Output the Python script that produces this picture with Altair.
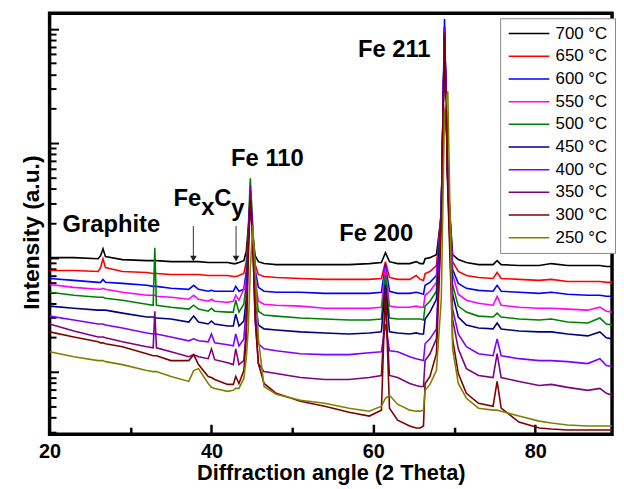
import altair as alt
import pandas as pd

# 2-theta grid (degrees)
two_theta = [20, 23, 26, 26.3, 26.6, 26.9, 29, 32, 32.8, 33.0, 33.2, 35, 37.2, 37.8, 38.4,
             39.6, 40.0, 40.4, 42.0, 42.7, 43.0, 43.4, 44.0, 44.3, 44.55, 44.8, 45.1, 45.4,
             45.8, 46.5, 48, 51, 54, 57, 59.5, 61.0, 61.5, 62.0, 63, 64.5, 65.3, 65.8, 66.2,
             66.4, 67.0, 67.8, 68.4, 68.8, 69.2, 69.8, 70.5, 71.5, 73, 74.8, 75.3, 75.8, 78,
             80.5, 82, 84, 86.5, 88, 88.8, 89.5]

series_labels = ["700 °C", "650 °C", "600 °C", "550 °C", "500 °C",
                 "450 °C", "400 °C", "350 °C", "300 °C", "250 °C"]
series_colors = ["#000000", "#ff0000", "#0000ff", "#ff00ff", "#008000",
                 "#000080", "#8000ff", "#800080", "#800000", "#808000"]

# log10 of intensity (a.u.)
log_i_700 = [2.000, 2.000, 1.991, 2.017, 2.078, 2.009, 1.983, 1.974, 1.974, 1.974, 1.974, 1.965, 1.965, 1.965, 1.965,
             1.957, 1.957, 1.957, 1.957, 1.948, 1.948, 1.957, 1.974, 2.052, 2.260, 2.459, 2.199, 2.017,
             1.965, 1.948, 1.939, 1.939, 1.939, 1.939, 1.948, 1.957, 2.043, 1.965, 1.948, 1.948, 1.965, 1.948, 1.948,
             1.991, 2.000, 2.026, 2.372, 4.017, 2.675, 2.026, 1.983, 1.957, 1.939, 1.939, 1.974, 1.939, 1.931,
             1.931, 1.948, 1.931, 1.931, 1.931, 1.922, 1.922]
log_i_650 = [1.887, 1.887, 1.879, 1.913, 1.991, 1.913, 1.879, 1.870, 1.861, 1.861, 1.861, 1.853, 1.853, 1.853, 1.853,
             1.844, 1.844, 1.844, 1.844, 1.835, 1.835, 1.844, 1.861, 1.965, 2.199, 2.502, 2.225, 1.939,
             1.853, 1.835, 1.827, 1.818, 1.810, 1.810, 1.810, 1.818, 1.965, 1.827, 1.810, 1.810, 1.844, 1.810, 1.801,
             1.861, 1.879, 1.931, 2.372, 3.974, 2.675, 1.965, 1.879, 1.844, 1.827, 1.818, 1.870, 1.818, 1.810,
             1.801, 1.810, 1.792, 1.792, 1.792, 1.784, 1.784]
log_i_600 = [1.818, 1.801, 1.784, 1.784, 1.810, 1.784, 1.775, 1.758, 1.749, 1.749, 1.749, 1.732, 1.723, 1.758, 1.723,
             1.706, 1.714, 1.706, 1.706, 1.706, 1.749, 1.706, 1.723, 1.879, 2.173, 2.545, 2.225, 1.896,
             1.740, 1.706, 1.697, 1.697, 1.688, 1.688, 1.688, 1.697, 1.939, 1.706, 1.688, 1.688, 1.697, 1.688, 1.680,
             1.758, 1.784, 1.844, 2.416, 4.087, 2.719, 1.896, 1.775, 1.732, 1.714, 1.706, 1.758, 1.706, 1.697,
             1.688, 1.697, 1.680, 1.671, 1.671, 1.662, 1.662]
log_i_550 = [1.766, 1.740, 1.723, 1.723, 1.732, 1.723, 1.697, 1.671, 1.671, 1.671, 1.662, 1.654, 1.636, 1.671, 1.636,
             1.619, 1.636, 1.619, 1.610, 1.619, 1.671, 1.628, 1.723, 1.810, 2.156, 2.589, 2.199, 1.810,
             1.619, 1.593, 1.584, 1.576, 1.558, 1.558, 1.558, 1.567, 1.913, 1.576, 1.567, 1.567, 1.576, 1.567, 1.567,
             1.671, 1.706, 1.784, 2.416, 3.991, 2.719, 1.853, 1.680, 1.628, 1.602, 1.584, 1.662, 1.584, 1.567,
             1.558, 1.558, 1.550, 1.541, 1.567, 1.532, 1.524]
log_i_500 = [1.697, 1.671, 1.654, 1.654, 1.654, 1.645, 1.628, 1.593, 1.584, 2.087, 1.584, 1.567, 1.550, 1.584, 1.550,
             1.532, 1.558, 1.532, 1.524, 1.524, 1.628, 1.524, 1.593, 1.766, 2.242, 2.693, 2.286, 1.766,
             1.532, 1.498, 1.489, 1.472, 1.463, 1.455, 1.455, 1.463, 1.853, 1.472, 1.463, 1.463, 1.463, 1.463, 1.455,
             1.576, 1.619, 1.706, 2.398, 3.931, 2.693, 1.766, 1.576, 1.524, 1.489, 1.481, 1.515, 1.481, 1.463,
             1.455, 1.463, 1.437, 1.429, 1.472, 1.420, 1.411]
log_i_450 = [1.576, 1.558, 1.541, 1.541, 1.541, 1.541, 1.515, 1.481, 1.481, 1.472, 1.472, 1.463, 1.437, 1.489, 1.437,
             1.420, 1.446, 1.420, 1.403, 1.403, 1.506, 1.403, 1.446, 1.636, 2.173, 2.545, 2.173, 1.636,
             1.411, 1.377, 1.368, 1.351, 1.342, 1.333, 1.342, 1.351, 1.766, 1.351, 1.342, 1.333, 1.342, 1.333, 1.333,
             1.463, 1.524, 1.636, 2.398, 3.974, 2.693, 1.680, 1.481, 1.411, 1.385, 1.377, 1.429, 1.377, 1.359,
             1.351, 1.351, 1.333, 1.316, 1.351, 1.299, 1.290]
log_i_400 = [1.489, 1.455, 1.420, 1.420, 1.420, 1.411, 1.385, 1.342, 1.333, 1.333, 1.333, 1.307, 1.273, 1.290, 1.273,
             1.264, 1.333, 1.255, 1.238, 1.229, 1.333, 1.229, 1.290, 1.550, 2.113, 2.632, 2.199, 1.550,
             1.247, 1.203, 1.186, 1.160, 1.152, 1.152, 1.169, 1.177, 1.420, 1.186, 1.177, 1.134, 1.117, 1.108, 1.100,
             1.247, 1.290, 1.377, 2.372, 4.017, 2.675, 1.550, 1.333, 1.221, 1.160, 1.143, 1.290, 1.143, 1.117,
             1.100, 1.100, 1.091, 1.074, 1.117, 1.056, 1.048]
log_i_350 = [1.420, 1.359, 1.307, 1.307, 1.307, 1.299, 1.264, 1.221, 1.212, 1.532, 1.212, 1.177, 1.134, 1.152, 1.134,
             1.117, 1.203, 1.108, 1.082, 1.065, 1.203, 1.065, 1.100, 1.377, 2.087, 2.589, 2.173, 1.463,
             1.074, 1.004, 0.987, 0.952, 0.935, 0.935, 0.952, 0.970, 1.636, 0.970, 0.952, 0.900, 0.883, 0.874, 0.874,
             1.100, 1.160, 1.290, 2.329, 3.974, 2.632, 1.463, 1.203, 1.030, 0.970, 0.952, 1.160, 0.952, 0.918,
             0.883, 0.892, 0.866, 0.840, 0.857, 0.814, 0.797]
log_i_300 = [1.351, 1.307, 1.264, 1.255, 1.255, 1.247, 1.221, 1.160, 1.143, 1.143, 1.143, 1.100, 1.100, 1.152, 1.065,
             0.961, 0.952, 0.935, 0.892, 0.892, 0.961, 0.900, 1.013, 1.290, 1.983, 2.502, 2.156, 1.463,
             1.074, 0.900, 0.814, 0.745, 0.701, 0.649, 0.615, 0.667, 1.723, 0.684, 0.580, 0.528, 0.511, 0.511, 0.528,
             0.900, 0.961, 1.160, 2.286, 3.931, 2.589, 1.290, 0.987, 0.814, 0.727, 0.701, 0.918, 0.684, 0.563,
             0.511, 0.502, 0.494, 0.494, 0.494, 0.494, 0.494]
log_i_250 = [1.177, 1.134, 1.100, 1.100, 1.100, 1.091, 1.065, 1.013, 1.004, 1.004, 1.004, 0.961, 0.918, 1.013, 1.030,
             0.900, 0.866, 0.857, 0.831, 0.840, 0.857, 0.857, 0.944, 1.117, 1.377, 1.896, 2.286, 1.896,
             1.290, 0.874, 0.805, 0.753, 0.727, 0.684, 0.658, 0.701, 0.771, 0.797, 0.719, 0.667, 0.658, 0.658, 0.667,
             0.840, 0.892, 1.013, 1.636, 3.281, 3.455, 1.203, 0.900, 0.771, 0.684, 0.667, 0.667, 0.658, 0.615,
             0.571, 0.554, 0.537, 0.528, 0.528, 0.528, 0.528]

all_series = [log_i_700, log_i_650, log_i_600, log_i_550, log_i_500,
              log_i_450, log_i_400, log_i_350, log_i_300, log_i_250]

# annotations
ann_labels = ["Graphite", "Fe", "x", "C", "y", "Fe 110", "Fe 200", "Fe 211"]
ann_angle = [21.6, 35.32, 38.75, 40.35, 42.45, 42.43, 55.78, 58.1]
ann_log_i = [2.225, 2.450, 2.372, 2.450, 2.364, 2.805, 2.147, 3.758]

arrow_angle = [37.77, 43.04]
arrow_top_log_i = [2.277, 2.277]
arrow_bottom_log_i = [2.009, 2.009]
arrow_head_log_i = [1.991, 1.991]

minor_x_ticks = [30, 50, 70]
major_x_ticks = [40, 60, 80]
major_y_ticks = [10, 100, 1000, 10000]
minor_y_ticks = [m * d for d in [1, 10, 100, 1000] for m in range(2, 10) if m * d > 2.9]

rows = []
for label, vals in zip(series_labels, all_series):
    for a, v in zip(two_theta, vals):
        rows.append({"angle": a, "intensity": 10 ** v, "series": label})
df = pd.DataFrame(rows)

ann_df = pd.DataFrame({"label": ann_labels, "angle": ann_angle,
                       "intensity": [10 ** v for v in ann_log_i]})
arrow_df = pd.DataFrame({"angle": arrow_angle,
                         "top": [10 ** v for v in arrow_top_log_i],
                         "bottom": [10 ** v for v in arrow_bottom_log_i],
                         "head": [10 ** v for v in arrow_head_log_i]})

W, H = 568, 425
FONT = "Liberation Sans"
x_scale = alt.Scale(domain=[20, 89.5], nice=False, zero=False)
y_scale = alt.Scale(type="log", domain=[2.864, 13670], nice=False)

lines = alt.Chart(df).mark_line(strokeWidth=1.6, clip=True).encode(
    x=alt.X("angle:Q", scale=x_scale,
            axis=alt.Axis(orient="bottom", title="Diffraction angle (2 Theta)",
                          values=[20, 40, 60, 80], ticks=False, domain=False, grid=False,
                          labelFlush=False, labelPadding=8, titlePadding=1,
                          labelFontSize=20, labelFontWeight="bold", titleFontSize=22)),
    y=alt.Y("intensity:Q", scale=y_scale,
            axis=alt.Axis(orient="left", title="Intensity (a.u.)", labels=False,
                          ticks=False, domain=False, grid=False, titlePadding=6,
                          titleFontSize=23, titleY=221)),
    color=alt.Color("series:N", scale=alt.Scale(domain=series_labels, range=series_colors),
                    legend=alt.Legend(title=None, orient="none", legendX=455, legendY=5,
                                      symbolType="M-1,0H5", symbolSize=187, symbolStrokeWidth=1.5,
                                      labelFont=FONT, labelFontSize=17, labelColor="black",
                                      labelOffset=32, rowPadding=4.9, padding=7,
                                      strokeColor="#888888", fillColor="white")),
)

texts = alt.Chart(ann_df).mark_text(align="left", baseline="alphabetic", font=FONT,
                                    fontWeight="bold", fontSize=24, color="black").encode(
    x=alt.X("angle:Q", scale=x_scale, axis=None),
    y=alt.Y("intensity:Q", scale=y_scale, axis=None),
    text="label:N",
)

arrow_lines = alt.Chart(arrow_df).mark_rule(color="#555555", strokeWidth=1.2).encode(
    x=alt.X("angle:Q", scale=x_scale, axis=None),
    y=alt.Y("top:Q", scale=y_scale, axis=None),
    y2="bottom:Q",
)
arrow_heads = alt.Chart(arrow_df).mark_point(shape="triangle-down", filled=True, size=45,
                                             color="#222222", opacity=1).encode(
    x=alt.X("angle:Q", scale=x_scale, axis=None),
    y=alt.Y("head:Q", scale=y_scale, axis=None),
)

def tick_layer(xvals, xsize, yvals, ysize):
    return alt.Chart(arrow_df).mark_point(opacity=0).encode(
        x=alt.X("angle:Q", scale=x_scale,
                axis=alt.Axis(orient="top", offset=-H, values=xvals, tickSize=xsize,
                              tickWidth=2.5, tickColor="black", labels=False,
                              domain=False, grid=False, title=None)),
        y=alt.Y("head:Q", scale=y_scale,
                axis=alt.Axis(orient="right", offset=-W, values=yvals, tickSize=ysize,
                              tickWidth=2, tickColor="black", labels=False,
                              domain=False, grid=False, title=None)),
    )

minor_ticks = tick_layer(minor_x_ticks, 7, minor_y_ticks, 6.5)
major_ticks = tick_layer(major_x_ticks, 10, major_y_ticks, 9)

chart = alt.layer(lines, arrow_lines, arrow_heads, texts, minor_ticks, major_ticks).resolve_axis(
    x="independent", y="independent"
).properties(
    width=W, height=H,
    autosize=alt.AutoSizeParams(type="none"),
    padding={"left": 42, "top": 3, "right": 4, "bottom": 52},
).configure_view(
    stroke="black", strokeWidth=3.5
).configure_axis(
    labelFont=FONT, titleFont=FONT, titleFontWeight="bold", labelColor="black",
    titleColor="black"
)

chart.save("out.html", embed_options={"renderer": "svg", "actions": False})
